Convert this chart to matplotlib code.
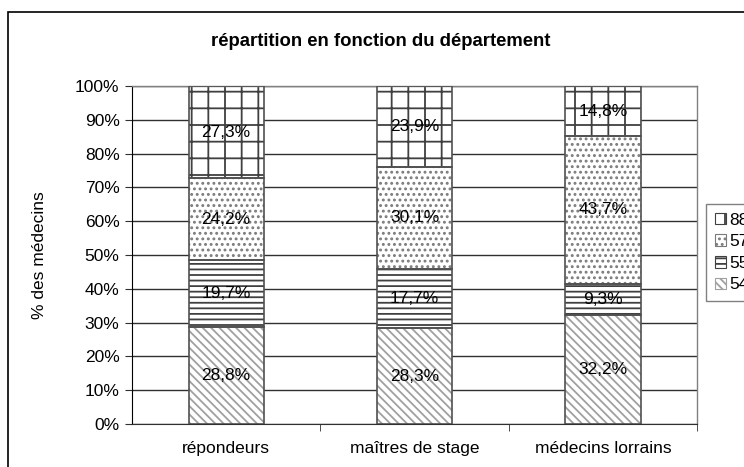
import matplotlib
matplotlib.use("Agg")
import matplotlib.pyplot as plt
from matplotlib.patches import Rectangle, Patch
import numpy as np

plt.rcParams['font.family'] = ['Liberation Sans', 'DejaVu Sans']
plt.rcParams['hatch.linewidth'] = 1.3

categories = ["répondeurs", "maîtres de stage", "médecins lorrains"]
series_names = ["54", "55", "57", "88"]
values_54 = [28.8, 28.3, 32.2]
values_55 = [19.7, 17.7, 9.3]
values_57 = [24.2, 30.1, 43.7]
values_88 = [27.3, 23.9, 14.8]
series_values = [values_54, values_55, values_57, values_88]
ytick_values = list(range(0, 101, 10))

hatches = ["\\\\\\\\", "---", "...", "+"]
hatch_colors = ["#a0a0a0", "#404040", "#7a7a7a", "#404040"]

W, H = 744, 467
fig = plt.figure(figsize=(W / 100, H / 100), dpi=100)
ax = fig.add_axes([132 / W, 1 - 424 / H, (697 - 132) / W, (424 - 86) / H])

x = np.arange(len(categories))
bar_w = 0.40
bottom = np.zeros(len(categories))
for vals, hatch, hc in zip(series_values, hatches, hatch_colors):
    vals = np.array(vals)
    ax.bar(x, vals, bar_w, bottom=bottom, color="white", edgecolor=hc,
           hatch=hatch, linewidth=0, zorder=2)
    ax.bar(x, vals, bar_w, bottom=bottom, fill=False, edgecolor="#505050",
           linewidth=1.2, zorder=3)
    for xi, b, v in zip(x, bottom, vals):
        ax.text(xi, b + v / 2, f"{v:.1f}%".replace(".", ","), ha="center",
                va="center", fontsize=12.5, zorder=4)
    bottom += vals

ax.set_xlim(-0.5, 2.5)
ax.set_ylim(0, 100)
ax.set_yticks(ytick_values)
ax.set_yticklabels([f"{v}%" for v in ytick_values], fontsize=12.5)
ax.yaxis.grid(True, color="#303030", linewidth=1.0, zorder=0)
ax.set_axisbelow(True)

ax.set_xticks(x)
ax.set_xticklabels(categories, fontsize=12.5)
ax.tick_params(axis="x", length=0, pad=12)
ax.set_xticks([0.5, 1.5, 2.5], minor=True)
ax.tick_params(axis="x", which="minor", length=5, color="#303030")
ax.tick_params(axis="y", length=5, color="#303030", pad=4)

for side in ["top", "right"]:
    ax.spines[side].set_color("#808080")
    ax.spines[side].set_linewidth(1.0)
ax.spines["left"].set_color("black")
ax.spines["bottom"].set_color("#303030")

ax.set_ylabel("% des médecins", fontsize=12.5)
ax.yaxis.set_label_coords(-0.150, 0.5)

fig.text(381 / W, 1 - 42 / H, "répartition en fonction du département",
         ha="center", va="center", fontsize=13.3, fontweight="bold")

# chart frame
fig.patches.append(Rectangle((8 / W, -0.1), 1.2, 1.1 - 12 / H,
                             transform=fig.transFigure, fill=False,
                             edgecolor="black", linewidth=1.2))

handles = [Patch(facecolor="white", edgecolor=hc, hatch=h, linewidth=0.8)
           for h, hc in zip(hatches, hatch_colors)]
order = [3, 2, 1, 0]
leg = fig.legend([handles[i] for i in order], [series_names[i] for i in order],
                 loc="upper left", bbox_to_anchor=(706 / W, 1 - 204 / H),
                 fontsize=12.5, frameon=True, fancybox=False,
                 handlelength=0.65, handleheight=0.65, handletextpad=0.2,
                 labelspacing=0.38, borderpad=0.5, borderaxespad=0)
leg.get_frame().set_edgecolor("#606060")
leg.get_frame().set_linewidth(1.0)

fig.savefig("out.png", dpi=100)
